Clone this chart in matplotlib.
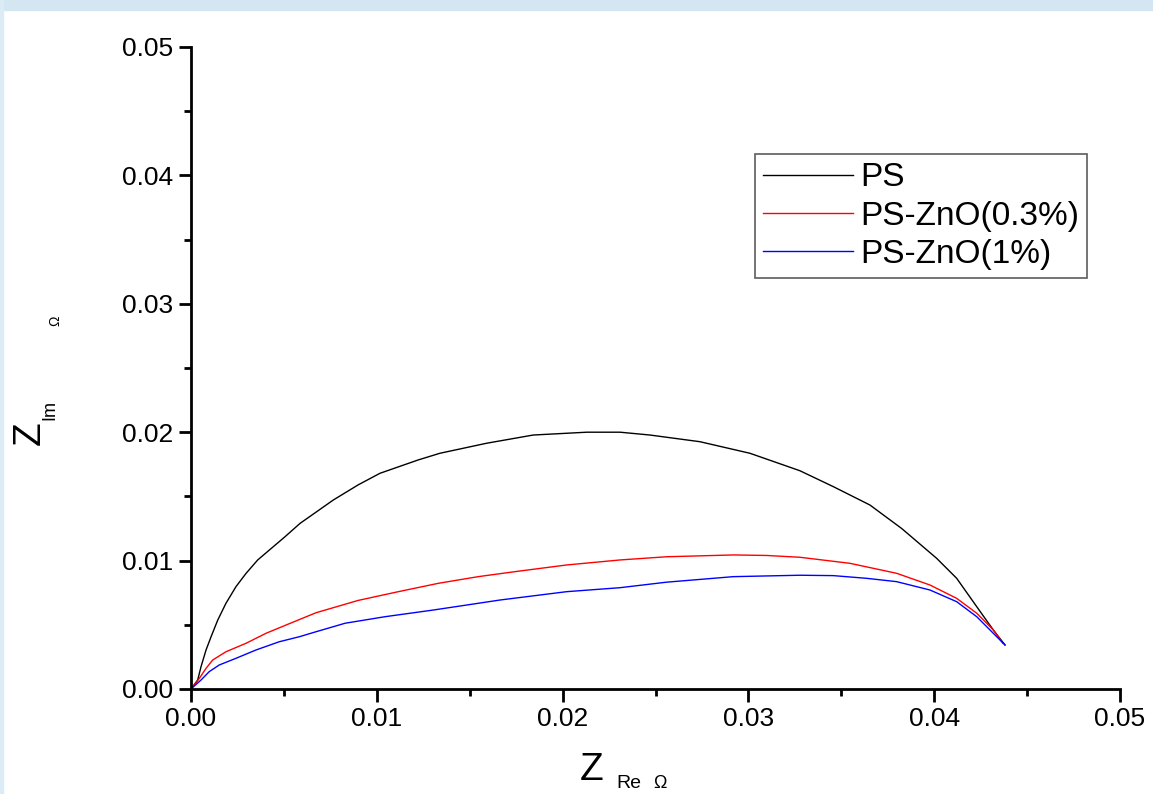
"""
Nyquist plot of PS and PS-ZnO films (Z_Re vs Z_Im).
"""

import matplotlib
matplotlib.use("Agg")
import matplotlib.pyplot as plt
from matplotlib.patches import Rectangle
from matplotlib.ticker import MultipleLocator


# =============================================================================
# DATA
# =============================================================================

ps_x = [0.0, 0.00036, 0.00054, 0.00081, 0.00108, 0.00144, 0.00188, 0.00242,
        0.00296, 0.00359, 0.00506, 0.00587, 0.00766, 0.009, 0.01017, 0.01223,
        0.0134, 0.01591, 0.01842, 0.0213, 0.02309, 0.0247, 0.02739, 0.03008,
        0.03277, 0.03457, 0.03654, 0.03825, 0.04013, 0.04121,
        0.04229, 0.04318, 0.04381]
ps_y = [0.0, 0.0007, 0.00174, 0.00304, 0.00407, 0.00537, 0.00667, 0.00797,
        0.0090, 0.01005, 0.01186, 0.0129, 0.01472, 0.0159, 0.0168, 0.01784,
        0.01836, 0.01914, 0.01978, 0.0200, 0.0200, 0.01978, 0.01926, 0.01836,
        0.0170, 0.01576, 0.01433, 0.01250, 0.01018, 0.00862,
        0.00641, 0.0046, 0.00343]

zno03_x = [0.0, 0.00045, 0.00081, 0.00117, 0.00188, 0.00296, 0.00404,
           0.00511, 0.00673, 0.009, 0.01116, 0.01331, 0.01546, 0.01744,
           0.02022, 0.02309, 0.0256, 0.02919, 0.03098, 0.03277, 0.03546,
           0.03798, 0.03977, 0.04121, 0.04229, 0.04318, 0.0437]
zno03_y = [0.0, 0.00083, 0.00161, 0.00226, 0.0029, 0.00356, 0.00434,
           0.00498, 0.00594, 0.0069, 0.00758, 0.00823, 0.00875, 0.00914,
           0.00966, 0.01005, 0.0103, 0.01044, 0.0104, 0.01026, 0.00979,
           0.00901, 0.0081, 0.00706, 0.0059, 0.0046, 0.00356]

zno1_x = [0.0, 0.00054, 0.00098, 0.00152, 0.00242, 0.0035, 0.00475, 0.00583,
          0.00673, 0.00829, 0.01044, 0.01304, 0.01663, 0.02022, 0.02309,
          0.0256, 0.02919, 0.03277, 0.03457, 0.03636, 0.03798, 0.03977,
          0.04121, 0.04229, 0.04318, 0.04381]
zno1_y = [0.0, 0.0007, 0.00135, 0.00187, 0.00239, 0.00304, 0.00368, 0.00407,
          0.00446, 0.00512, 0.00563, 0.00615, 0.00693, 0.00758, 0.00789,
          0.00832, 0.00875, 0.00886, 0.00883, 0.00862, 0.00836, 0.00771,
          0.0068, 0.00563, 0.00434, 0.00343]

SERIES = [
    ("PS", ps_x, ps_y, "black"),
    ("PS-ZnO(0.3%)", zno03_x, zno03_y, "#ff0000"),
    ("PS-ZnO(1%)", zno1_x, zno1_y, "#0000ff"),
]

FONT = "Liberation Sans"


# =============================================================================
# PLOT
# =============================================================================

def main():
    plt.rcParams["font.family"] = [FONT, "DejaVu Sans"]

    fig = plt.figure(figsize=(11.53, 7.94), dpi=100)
    fig.patch.set_facecolor("white")

    # light blue slide strips at the top and left edge
    fig.patches.append(Rectangle((0, 1 - 10 / 794), 1, 10 / 794,
                                 transform=fig.transFigure,
                                 color="#d3e6f2", zorder=0))
    fig.patches.append(Rectangle((0, 0), 3 / 1153, 1,
                                 transform=fig.transFigure,
                                 color="#dcecf7", zorder=0))

    ax = fig.add_axes([191 / 1153, 1 - 689 / 794,
                       (1120 - 191) / 1153, (689 - 47) / 794])

    for name, xs, ys, color in SERIES:
        ax.plot(xs, ys, color=color, linewidth=1.0, label=name,
                solid_joinstyle="round")

    ax.set_xlim(0, 0.05)
    ax.set_ylim(0, 0.05)
    ax.xaxis.set_major_locator(MultipleLocator(0.01))
    ax.xaxis.set_minor_locator(MultipleLocator(0.005))
    ax.yaxis.set_major_locator(MultipleLocator(0.01))
    ax.yaxis.set_minor_locator(MultipleLocator(0.005))
    ax.xaxis.set_major_formatter(lambda v, p: f"{v:.2f}")
    ax.yaxis.set_major_formatter(lambda v, p: f"{v:.2f}")

    for side in ("top", "right"):
        ax.spines[side].set_visible(False)
    for side in ("left", "bottom"):
        ax.spines[side].set_linewidth(2.0)

    ax.tick_params(which="major", direction="out", length=9, width=2,
                   labelsize=19, pad=4)
    ax.tick_params(which="minor", direction="out", length=5, width=2)

    leg = ax.legend(loc="upper left", bbox_to_anchor=(0.607, 0.8333),
                    fontsize=24, frameon=True, fancybox=False,
                    edgecolor="#333333", handlelength=2.7, handletextpad=0.2,
                    borderpad=0.25, labelspacing=0.22, borderaxespad=0)
    leg.get_frame().set_linewidth(1.2)

    # axis labels drawn as separate texts like the original
    fig.text(592 / 1153, 1 - 770 / 794, "Z", fontsize=28,
             ha="center", va="center")
    fig.text(629 / 1153, 1 - 784 / 794, "Re", fontsize=14,
             ha="center", va="center")
    fig.text(660 / 1153, 1 - 784 / 794, "\u03a9", fontsize=13,
             ha="center", va="center")

    fig.text(30 / 1153, 1 - 433 / 794, "Z", fontsize=28, rotation=90,
             ha="center", va="center")
    fig.text(50 / 1153, 1 - 410 / 794, "Im", fontsize=13, rotation=90,
             ha="center", va="center")
    fig.text(55 / 1153, 1 - 321 / 794, "\u03a9", fontsize=10, rotation=90,
             ha="center", va="center")

    fig.savefig("out.png", dpi=100)
    plt.close(fig)


if __name__ == "__main__":
    main()
